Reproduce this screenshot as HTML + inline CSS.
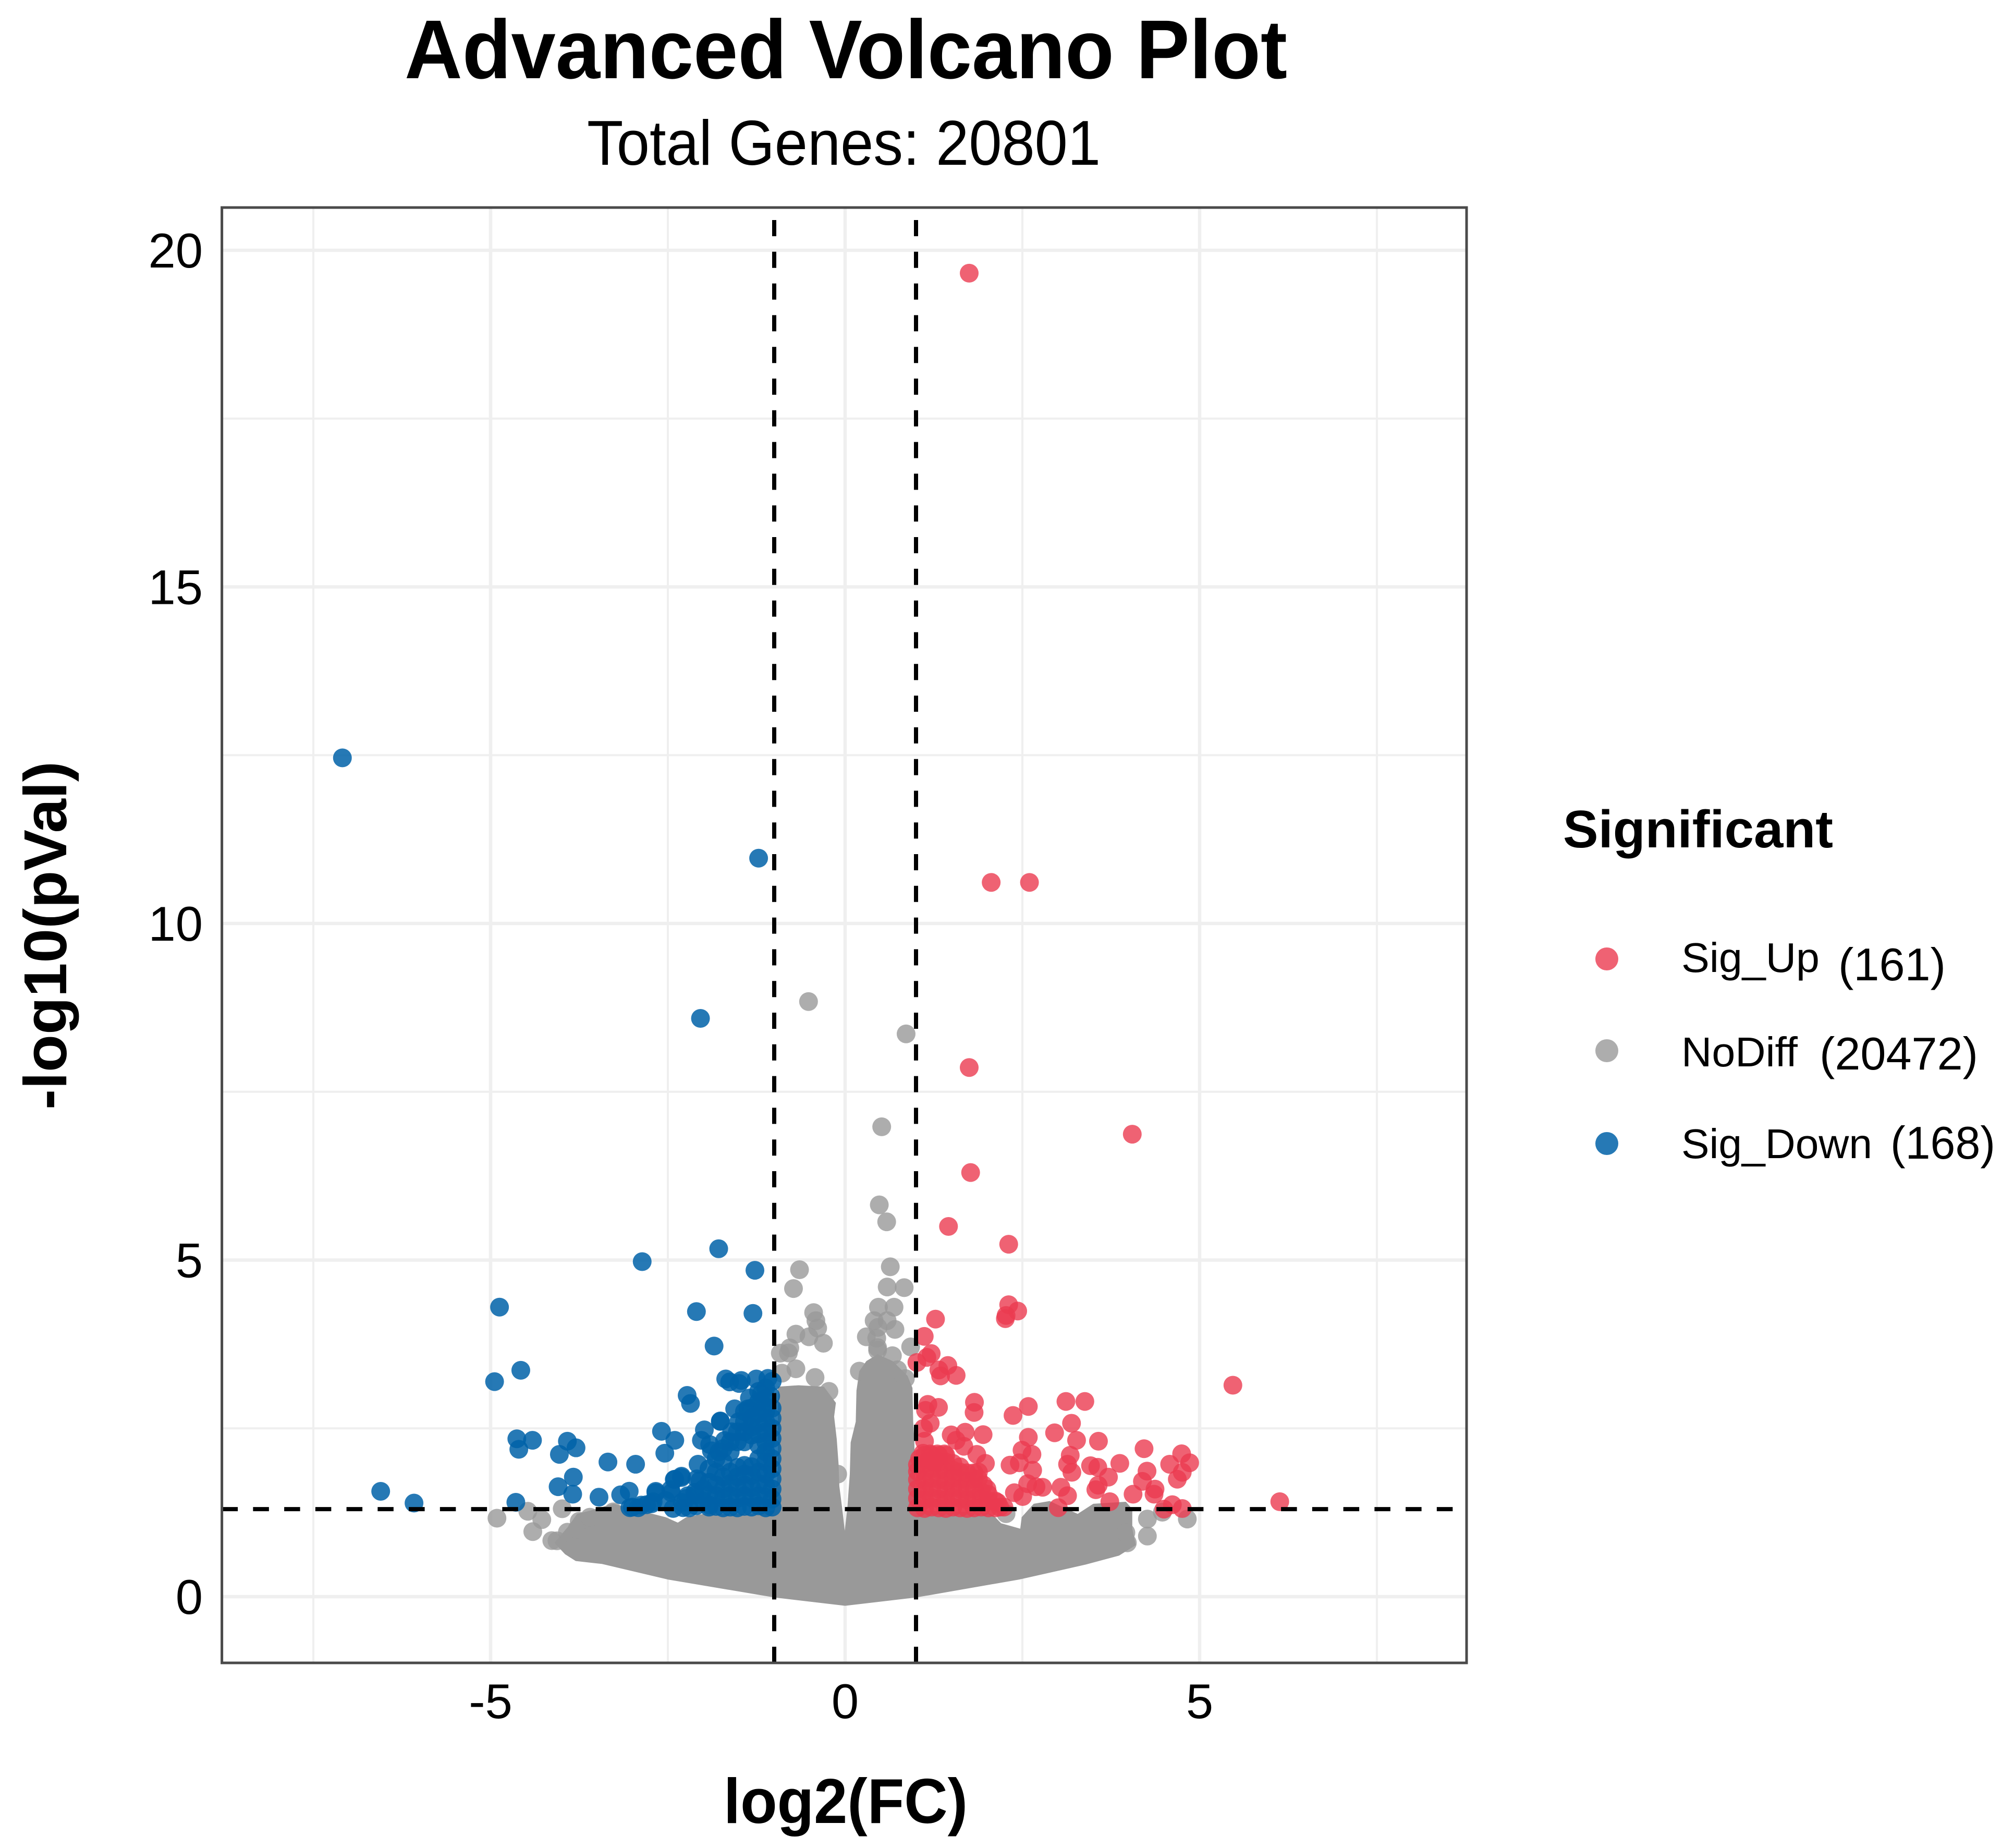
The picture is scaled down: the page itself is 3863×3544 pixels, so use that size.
<!DOCTYPE html>
<html lang="en">
<head>
<meta charset="utf-8">
<title>Advanced Volcano Plot</title>
<style>
html,body{margin:0;padding:0;background:#fff;}
svg{display:block;font-family:"Liberation Sans",Arial,sans-serif;}
</style>
</head>
<body>
<svg id="chart" xmlns="http://www.w3.org/2000/svg" width="3863" height="3544" viewBox="0 0 3863 3544">
  <rect x="0" y="0" width="3863" height="3544" fill="#ffffff"/>
  <text x="776" y="150" font-size="160" font-weight="700" textLength="1693" lengthAdjust="spacingAndGlyphs">Advanced Volcano Plot</text>
  <text x="1126" y="316" font-size="122" textLength="985" lengthAdjust="spacingAndGlyphs">Total Genes: 20801</text>
  <g id="grid"></g>
  <g id="marks"></g>
  <g id="refs"></g>
  <rect id="frame" fill="none" stroke="#4a4a4a" stroke-width="5"/>
  <g id="ticks"></g>
  <text x="1388" y="3496" font-size="122" font-weight="700" textLength="468" lengthAdjust="spacingAndGlyphs">log2(FC)</text>
  <text transform="translate(127,2128) rotate(-90)" x="0" y="0" font-size="116" font-weight="700" textLength="668" lengthAdjust="spacingAndGlyphs">-log10(pVal)</text>
  <g>
    <text x="2998" y="1625" font-size="101" font-weight="700" textLength="518" lengthAdjust="spacingAndGlyphs">Significant</text>
    <g>
      <circle cx="3082" cy="1839" r="22" fill="#eb3b50" fill-opacity="0.8"/>
      <text x="3225" y="1864" font-size="80" textLength="265" lengthAdjust="spacingAndGlyphs">Sig_Up</text>
      <text x="3526" y="1880" font-size="88" textLength="206" lengthAdjust="spacingAndGlyphs">(161)</text>
    </g>
    <g>
      <circle cx="3082" cy="2015" r="22" fill="#999999" fill-opacity="0.8"/>
      <text x="3225" y="2045" font-size="80" textLength="223" lengthAdjust="spacingAndGlyphs">NoDiff</text>
      <text x="3490" y="2051" font-size="88" textLength="304" lengthAdjust="spacingAndGlyphs">(20472)</text>
    </g>
    <g>
      <circle cx="3082" cy="2193" r="22" fill="#0061a8" fill-opacity="0.85"/>
      <text x="3225" y="2221" font-size="80" textLength="366" lengthAdjust="spacingAndGlyphs">Sig_Down</text>
      <text x="3626" y="2222" font-size="88" textLength="201" lengthAdjust="spacingAndGlyphs">(168)</text>
    </g>
  </g>
</svg>
<script>
// Tick values and labels
const xTickValues = [-5, 0, 5];
const xTickLabels = ["-5", "0", "5"];
const yTickValues = [0, 5, 10, 15, 20];
const yTickLabels = ["0", "5", "10", "15", "20"];
const xMinorValues = [-7.5, -2.5, 2.5, 7.5];
const yMinorValues = [2.5, 7.5, 12.5, 17.5];
// Thresholds
const fcThresholds = [-1, 1];
const pThresholds = [1.3];
// Series values: [log2(FC), -log10(pVal)]
const sigUpPoints = [
[1.75,19.66],[2.06,10.61],[2.60,10.61],[1.75,7.86],[4.05,6.87],[1.77,6.30],[1.458,5.50],[2.307,5.235],
[2.307,4.337],[2.434,4.243],[2.27,4.177],[2.26,4.13],[1.275,4.123],[1.116,3.866],[1.214,3.612],[1.153,3.554],
[1.012,3.479],[1.449,3.434],[1.322,3.368],[1.346,3.279],[1.566,3.287],[5.469,3.141],[3.114,2.90],[3.381,2.90],
[1.824,2.887],[1.819,2.736],[2.584,2.825],[2.368,2.692],[1.317,2.812],[1.167,2.856],[1.134,2.767],[3.193,2.576],
[2.954,2.434],[1.2,2.576],[1.106,2.50],[1.693,2.443],[1.496,2.403],[1.946,2.407],[2.584,2.367],[3.264,2.323],
[3.573,2.309],[1.12,2.309],[1.566,2.323],[1.674,2.234],[4.216,2.198],[2.495,2.176],[2.635,2.114],[1.857,2.114],
[3.175,2.10],[4.746,2.122],[4.577,1.967],[4.859,1.989],[3.874,1.98],[1.979,1.98],[2.326,1.954],[2.457,1.989],
[3.137,1.967],[3.461,1.945],[3.564,1.922],[3.198,1.847],[2.645,1.878],[4.258,1.865],[3.714,1.776],[4.755,1.847],
[4.685,1.745],[4.193,1.713],[3.569,1.656],[3.536,1.589],[4.371,1.598],[4.357,1.522],[4.061,1.522],[2.574,1.678],
[2.785,1.625],[2.692,1.633],[3.043,1.625],[3.137,1.50],[2.387,1.544],[2.504,1.487],[3.733,1.411],[4.615,1.366],
[4.497,1.30],[4.755,1.309],[6.13,1.411],[3.006,1.322],
[1.02,1.32],[1.02,1.46],[1.02,1.6],[1.02,1.74],[1.02,1.86],[1.02,1.96],
[1.12,1.31],[1.12,1.44],[1.12,1.58],[1.12,1.72],[1.12,1.86],[1.12,1.98],[1.12,2.1],
[1.22,1.33],[1.22,1.47],[1.22,1.62],[1.22,1.76],[1.22,1.9],[1.22,2.02],[1.22,2.1],
[1.32,1.32],[1.32,1.45],[1.32,1.6],[1.32,1.74],[1.32,1.88],[1.32,2.0],[1.32,2.1],
[1.42,1.31],[1.42,1.44],[1.42,1.58],[1.42,1.72],[1.42,1.86],[1.42,2.0],[1.42,2.1],
[1.52,1.33],[1.52,1.48],[1.52,1.62],[1.52,1.76],[1.52,1.88],
[1.62,1.32],[1.62,1.46],[1.62,1.6],[1.62,1.74],[1.62,1.85],
[1.72,1.31],[1.72,1.44],[1.72,1.58],[1.72,1.72],[1.72,1.84],
[1.82,1.32],[1.82,1.46],[1.82,1.6],[1.82,1.75],[1.82,1.84],
[1.92,1.33],[1.92,1.45],[1.92,1.56],
[2.02,1.32],[2.02,1.42],[2.02,1.52],
[2.12,1.32],[2.12,1.42],[2.24,1.33],
[1.88,1.75],[1.88,1.85],[1.95,1.66],[2.15,1.4],[2.0,1.6],[1.05,2.05],[1.62,1.93],
[1.52,1.98],[1.3,2.12],[1.2,2.12],[1.1,2.13],[1.4,2.12],[2.18,1.33],[1.25,2.0]
];
const sigDownPoints = [
[-7.09,12.46],[-1.22,10.97],[-2.04,8.59],[-2.862,4.977],[-1.783,5.168],[-1.272,4.848],[-4.874,4.301],[-2.097,4.235],
[-1.30,4.208],[-1.848,3.723],[-4.574,3.363],[-4.944,3.194],[-1.684,3.234],[-1.628,3.19],[-1.464,3.212],[-1.497,3.167],
[-1.253,3.234],[-1.089,3.243],[-1.028,3.199],[-1.182,3.012],[-2.228,2.99],[-2.181,2.87],[-1.558,2.79],[-1.37,2.79],
[-1.135,2.834],[-1.76,2.603],[-2.59,2.456],[-2.402,2.323],[-1.985,2.478],[-2.027,2.323],[-2.543,2.131],[-1.886,2.167],
[-4.63,2.345],[-4.409,2.323],[-4.602,2.189],[-3.917,2.309],[-3.795,2.211],[-4.03,2.114],[-3.345,2.0],[-2.955,1.967],
[-3.833,1.776],[-4.048,1.633],[-3.842,1.522],[-4.644,1.402],[-3.471,1.478],[-3.045,1.567],[-3.166,1.513],
[-6.55,1.565],[-6.08,1.39],[-2.669,1.545],[-2.308,1.789],[-2.402,1.745],[-2.449,1.544],[-2.707,1.411],[-2.918,1.322],
[-3.035,1.322],[-2.80,1.366],[-2.425,1.31],[-2.285,1.322],[-2.074,1.967],[-2.05,1.722],
[-1.03,1.33],[-1.03,1.45],[-1.03,1.6],[-1.03,1.75],[-1.03,1.9],[-1.03,2.05],[-1.03,2.2],[-1.03,2.35],[-1.03,2.5],[-1.03,2.65],[-1.03,2.8],
[-1.12,1.32],[-1.12,1.48],[-1.12,1.65],[-1.12,1.82],[-1.12,2.0],[-1.12,2.15],[-1.12,2.3],[-1.12,2.45],[-1.12,2.6],[-1.12,2.75],[-1.12,2.95],
[-1.22,1.35],[-1.22,1.5],[-1.22,1.68],[-1.22,1.85],[-1.22,2.05],[-1.22,2.25],[-1.22,2.42],[-1.22,2.58],[-1.22,2.72],[-1.22,2.9],
[-1.32,1.33],[-1.32,1.47],[-1.32,1.62],[-1.32,1.8],[-1.32,1.93],[-1.32,2.4],[-1.32,2.52],[-1.32,2.66],[-1.32,2.8],
[-1.42,1.34],[-1.42,1.5],[-1.42,1.66],[-1.42,1.82],[-1.42,1.95],[-1.42,2.3],[-1.42,2.45],[-1.42,2.6],
[-1.52,1.32],[-1.52,1.46],[-1.52,1.62],[-1.52,1.78],[-1.52,1.92],[-1.52,2.3],[-1.52,2.45],
[-1.62,1.33],[-1.62,1.5],[-1.62,1.68],[-1.62,1.85],[-1.62,2.15],[-1.62,2.3],
[-1.72,1.32],[-1.72,1.46],[-1.72,1.6],[-1.72,1.78],[-1.72,2.0],[-1.72,2.2],
[-1.82,1.34],[-1.82,1.5],[-1.82,1.66],[-1.82,1.85],[-1.82,2.05],
[-1.92,1.36],[-1.92,1.52],[-1.92,1.7],[-1.92,1.9],
[-2.0,1.42],[-2.1,1.35],[-2.0,1.6],[-2.12,1.55],[-2.2,1.32],[-2.22,1.5],[-2.3,1.4],
[-1.76,2.61],[-1.91,2.26],[-2.09,1.75],[-2.31,1.77],[-2.41,1.74],[-2.46,1.59],[-2.67,1.565],[-2.73,1.38],
[-2.875,1.36],[-3.0,1.33],[-2.53,1.43],[-2.115,1.51],[-2.24,1.46],[-1.92,1.33],
[-1.35,2.95],[-1.42,2.75],[-1.5,2.6],[-1.6,2.45],[-1.7,2.32],[-1.22,3.05],[-1.12,3.1],[-1.05,2.98],[-1.78,2.15]
];
const noDiffPoints = [
[-0.516,8.84],[0.86,8.36],[0.516,6.98],[0.482,5.82],[0.586,5.568],[0.637,4.9],[0.593,4.6],[0.833,4.59],
[0.47,4.30],[0.69,4.30],[0.409,4.10],[0.593,4.1],[0.463,4.0],[0.703,3.97],[0.299,3.86],[0.446,3.84],[0.458,3.7],[0.924,3.71],
[0.667,3.58],[0.458,3.66],[0.85,3.24],[0.74,3.37],[0.2,3.35],
[-0.643,4.857],[-0.728,4.577],[-0.444,4.22],[-0.412,4.1],[-0.387,3.99],[-0.694,3.9],[-0.51,3.86],[-0.306,3.765],
[-0.78,3.695],[-0.914,3.617],[-0.8,3.62],[-0.694,3.385],[-0.89,3.32],[-0.424,3.256],[-0.228,3.05],[-0.105,1.82],
[-4.91,1.166],[-4.475,1.268],[-4.278,1.144],[-4.405,0.966],[-3.99,1.306],[-4.137,0.833],[-4.064,0.83],[-3.917,0.958],
[-3.75,1.12],[-3.78,1.0],[-3.6,1.18],[-3.27,1.26],
[4.263,1.153],[4.263,0.90],[4.826,1.153],[4.474,1.255],[2.27,1.233],[3.96,0.95],[3.98,0.8],[3.9,1.25]
];
// Outline of the saturated grey core where thousands of NoDiff points merge
const noDiffCoreFC = [0,-1,-2.5,-3.43,-3.8,-3.95,-4.1,-3.9,-3.78,-3.59,-3.27,-3.09,-2.53,-2.36,-2.24,-2.0,-1.35,-1,-0.948,-0.948,-0.948,-0.657,-0.3,-0.13,-0.155,-0.118,-0.093,-0.081,-0.04,-0.005,0.03,0.066,0.078,0.15,0.16,0.2,0.3,0.458,0.67,0.88,0.95,0.96,0.975,1,2.0,2.1,2.2,2.47,2.49,2.66,2.885,3.05,3.28,3.5,3.96,4.05,4.05,4.1,3.864,3.395,2.457,1.003];
const noDiffCoreP = [-0.136,-0.012,0.255,0.486,0.53,0.63,0.8,1.05,1.23,1.28,1.38,1.33,1.18,1.10,1.18,1.23,1.23,1.28,1.9,2.79,3.12,3.14,3.12,2.88,2.675,2.34,1.98,1.64,1.3,0.98,1.3,1.82,2.29,2.6,3.06,3.35,3.5,3.6,3.5,3.28,3.1,2.6,2.34,1.28,1.25,1.2,1.09,1.01,1.18,1.38,1.42,1.34,1.23,1.38,1.41,1.3,1.01,0.766,0.61,0.477,0.255,-0.012];

const NS = "http://www.w3.org/2000/svg";
const panelLeft = 425.6, panelRight = 2813, panelTop = 398, panelBottom = 3189;
function xScale(v) { return 1621 + 136 * v; }
function yScale(v) { return 3062 - 129.1 * v; }
function make(tag, parent) {
  const el = document.createElementNS(NS, tag);
  parent.appendChild(el);
  return el;
}
const frame = document.getElementById("frame");
frame.setAttribute("x", panelLeft);
frame.setAttribute("y", panelTop);
frame.setAttribute("width", panelRight - panelLeft);
frame.setAttribute("height", panelBottom - panelTop);

const grid = document.getElementById("grid");
function drawGrid(values, isX, width, name) {
  values.forEach(function (v) {
    const el = make("line", grid);
    
    
    el.setAttribute("x1", isX ? xScale(v) : panelLeft);
    el.setAttribute("x2", isX ? xScale(v) : panelRight);
    el.setAttribute("y1", isX ? panelTop : yScale(v));
    el.setAttribute("y2", isX ? panelBottom : yScale(v));
    el.setAttribute("stroke", "#efefef");
    el.setAttribute("stroke-width", width);
  });
}
drawGrid(xMinorValues, true, 4, "x-minor-gridline");
drawGrid(yMinorValues, false, 4, "y-minor-gridline");
drawGrid(xTickValues, true, 6.5, "x-major-gridline");
drawGrid(yTickValues, false, 6.5, "y-major-gridline");

const marks = document.getElementById("marks");
const core = make("polygon", marks);


core.setAttribute("fill", "#999999");
core.setAttribute("points", noDiffCoreFC.map(function (fc, i) {
  return xScale(fc) + "," + yScale(noDiffCoreP[i]);
}).join(" "));

function drawPoints(points, color, opacity, name) {
  points.forEach(function (p) {
    const el = make("circle", marks);
    
    
    el.setAttribute("cx", xScale(p[0]));
    el.setAttribute("cy", yScale(p[1]));
    el.setAttribute("r", 18);
    el.setAttribute("fill", color);
    el.setAttribute("fill-opacity", opacity);
  });
}
drawPoints(noDiffPoints, "#999999", 0.8, "nodiff-point");
drawPoints(sigDownPoints, "#0061a8", 0.85, "sig-down-point");
drawPoints(sigUpPoints, "#eb3b50", 0.8, "sig-up-point");

const refs = document.getElementById("refs");
fcThresholds.forEach(function (v) {
  const el = make("line", refs);
  
  
  el.setAttribute("x1", xScale(v));
  el.setAttribute("x2", xScale(v));
  el.setAttribute("y1", panelBottom);
  el.setAttribute("y2", panelTop);
  el.setAttribute("stroke", "#000");
  el.setAttribute("stroke-width", 8);
  el.setAttribute("stroke-dasharray", "31 29.8");
});
pThresholds.forEach(function (v) {
  const el = make("line", refs);
  
  
  el.setAttribute("x1", panelLeft);
  el.setAttribute("x2", panelRight);
  el.setAttribute("y1", yScale(v));
  el.setAttribute("y2", yScale(v));
  el.setAttribute("stroke", "#000");
  el.setAttribute("stroke-width", 8);
  el.setAttribute("stroke-dasharray", "30.5 29.25");
});

const ticks = document.getElementById("ticks");
xTickValues.forEach(function (v, i) {
  const el = make("text", ticks);
  
  
  el.setAttribute("x", xScale(v));
  el.setAttribute("y", 3295);
  el.setAttribute("font-size", 94);
  el.setAttribute("text-anchor", "middle");
  el.textContent = xTickLabels[i];
});
yTickValues.forEach(function (v, i) {
  const el = make("text", ticks);
  
  
  el.setAttribute("x", 389);
  el.setAttribute("y", yScale(v) + 33);
  el.setAttribute("font-size", 94);
  el.setAttribute("text-anchor", "end");
  el.textContent = yTickLabels[i];
});
</script>
</body>
</html>
